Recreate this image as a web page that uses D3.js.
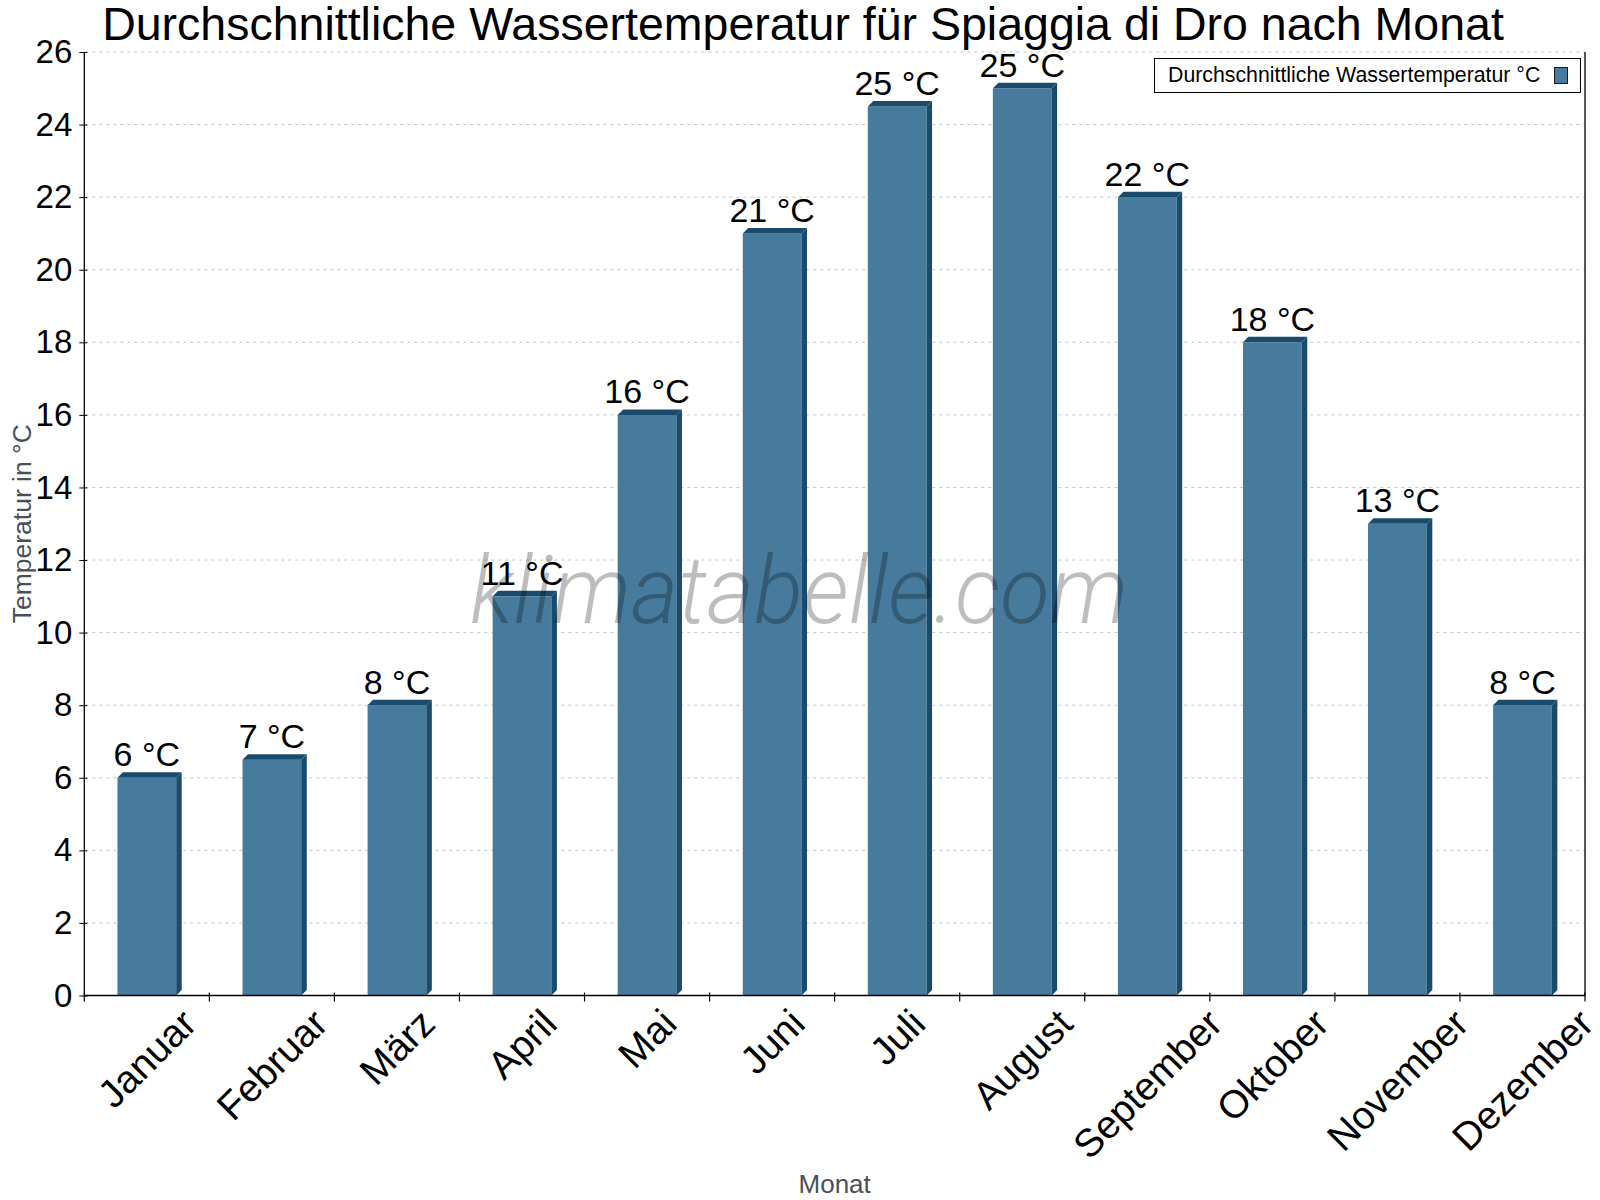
<!DOCTYPE html>
<html>
<head>
<meta charset="utf-8">
<script src="https://cdn.jsdelivr.net/npm/d3@7"></script>
<style>
  html, body { margin: 0; padding: 0; background: #fff; }
  svg { display: block; }
</style>
</head>
<body>
<div id="chart"></div>
<script>
// ---- data ----
const months = ["Januar", "Februar", "März", "April", "Mai", "Juni", "Juli", "August", "September", "Oktober", "November", "Dezember"];
const waterTemps = [6, 6.5, 8, 11, 16, 21, 24.5, 25, 22, 18, 13, 8];
const yTicks = [0, 2, 4, 6, 8, 10, 12, 14, 16, 18, 20, 22, 24, 26];
const titleText = "Durchschnittliche Wassertemperatur für Spiaggia di Dro nach Monat";
const seriesName = "Durchschnittliche Wassertemperatur °C";
const yTitle = "Temperatur in °C";
const xTitle = "Monat";
const watermark = "klimatabelle.com";

// ---- layout ----
const W = 1600, H = 1200;
const pL = 84.3, pR = 1585, pB = 995.5, pT = 52;
const FONT = "'Liberation Sans', Arial, Helvetica, sans-serif";
const frontColor = "#467b9d", darkColor = "#1a4b6c";
const depth = 5.5;

const svg = d3.select("#chart").append("svg")
  .attr("width", W).attr("height", H)
  .attr("viewBox", `0 0 ${W} ${H}`)
  .style("font-family", FONT);

svg.append("rect").attr("width", W).attr("height", H).attr("fill", "#fff");

const xBand = d3.scaleBand().domain(months).range([pL, pR]);
const xBar = d3.scaleBand().domain(months).range([pL, pR]).paddingInner(0.53).paddingOuter(0.265);
const y = d3.scaleLinear().domain([0, 26]).range([pB, pT]);

// grid
svg.append("g").selectAll("line").data(yTicks.filter(t => t > 0)).join("line")
  .attr("x1", pL + 1).attr("x2", pR)
  .attr("y1", d => y(d)).attr("y2", d => y(d))
  .attr("stroke", "#c4c4c4").attr("stroke-width", 1)
  .attr("stroke-dasharray", "3,4");

// title
svg.append("text").attr("x", 803).attr("y", 40)
  .attr("text-anchor", "middle").attr("font-size", 46.5).attr("fill", "#000")
  .text(titleText);

// bars
const bw = xBar.bandwidth();
const bars = svg.append("g").selectAll("g").data(months.map((m, i) => ({ m, v: waterTemps[i] }))).join("g");
bars.append("rect")
  .attr("x", d => xBar(d.m)).attr("y", d => y(d.v))
  .attr("width", bw).attr("height", d => pB - y(d.v))
  .attr("fill", frontColor);
bars.append("polygon")
  .attr("points", d => {
    const xl = xBar(d.m), xr = xl + bw, yv = y(d.v);
    return [[xl, yv], [xl + depth, yv - depth], [xr + depth, yv - depth], [xr, yv]].join(" ");
  })
  .attr("fill", darkColor);
bars.append("polygon")
  .attr("points", d => {
    const xr = xBar(d.m) + bw, yv = y(d.v);
    return [[xr, yv], [xr + depth, yv - depth], [xr + depth, pB - depth], [xr, pB]].join(" ");
  })
  .attr("fill", darkColor);

// watermark
svg.append("text").attr("x", 470).attr("y", 623)
  .attr("font-family", "Roboto, 'Open Sans', sans-serif")
  .attr("font-weight", 300).attr("font-style", "italic")
  .attr("font-size", 94).attr("fill", "#000").attr("fill-opacity", 0.26)
  .attr("textLength", 658).attr("lengthAdjust", "spacingAndGlyphs")
  .text(watermark);

// value labels
bars.append("text")
  .attr("x", d => xBar(d.m) + bw / 2).attr("y", d => y(d.v) - 11.5)
  .attr("text-anchor", "middle").attr("font-size", 34).attr("fill", "#000")
  .text(d => `${Math.round(d.v)} °C`);

// y axis
const yAxis = svg.append("g").attr("transform", `translate(${pL},0)`)
  .call(d3.axisLeft(y).tickValues(yTicks).tickSizeInner(5).tickSizeOuter(0).tickPadding(7));
yAxis.select(".domain").remove();
yAxis.selectAll(".tick line").attr("x1", 3).attr("x2", -5).attr("stroke", "#000");
yAxis.selectAll(".tick text").attr("font-size", 33).attr("font-family", FONT).attr("fill", "#000");
svg.append("line").attr("x1", pL).attr("x2", pL).attr("y1", pT).attr("y2", pB).attr("stroke", "#000").attr("stroke-width", 1.3);
svg.append("line").attr("x1", pR).attr("x2", pR).attr("y1", pT).attr("y2", pB).attr("stroke", "#000").attr("stroke-width", 1.3);

// x axis
svg.append("line").attr("x1", pL).attr("x2", pR).attr("y1", pB).attr("y2", pB).attr("stroke", "#000").attr("stroke-width", 1.3);
const boundaries = months.map(m => xBand(m)).concat([xBand(months[months.length - 1]) + xBand.bandwidth()]);
svg.append("g").selectAll("line").data(boundaries).join("line")
  .attr("x1", d => d).attr("x2", d => d)
  .attr("y1", pB - 3).attr("y2", pB + 6)
  .attr("stroke", "#000").attr("stroke-width", 1.2);

const xFont = 39;
const xLabels = svg.append("g").selectAll("text").data(months).join("text")
  .attr("font-size", xFont).attr("fill", "#000")
  .attr("text-anchor", "middle").attr("dy", "0.35em")
  .text(d => d);
xLabels.each(function (d) {
  const w = this.getComputedTextLength();
  const cx = xBand(d) + xBand.bandwidth() / 2;
  const cy = 1006 + (w + 0.75 * xFont) * 0.3536;
  d3.select(this).attr("x", cx).attr("y", cy)
    .attr("transform", `rotate(-45 ${cx} ${cy})`);
});

// axis titles
svg.append("text").attr("x", (pL + pR) / 2).attr("y", 1193)
  .attr("text-anchor", "middle").attr("font-size", 26).attr("fill", "#4a5058")
  .text(xTitle);
svg.append("text")
  .attr("transform", `translate(31, ${(pT + pB) / 2}) rotate(-90)`)
  .attr("text-anchor", "middle").attr("font-size", 26.5).attr("fill", "#4a5058")
  .text(yTitle);

// legend
const lg = svg.append("g");
lg.append("rect").attr("x", 1154.5).attr("y", 58.5).attr("width", 426).attr("height", 34)
  .attr("fill", "#fff").attr("stroke", "#000").attr("stroke-width", 1);
lg.append("text").attr("x", 1168).attr("y", 82).attr("font-size", 21.3).attr("fill", "#000").text(seriesName);
lg.append("rect").attr("x", 1554.5).attr("y", 67.5).attr("width", 13).attr("height", 16)
  .attr("fill", frontColor).attr("stroke", "#1a1a1a").attr("stroke-width", 1);
</script>
</body>
</html>
